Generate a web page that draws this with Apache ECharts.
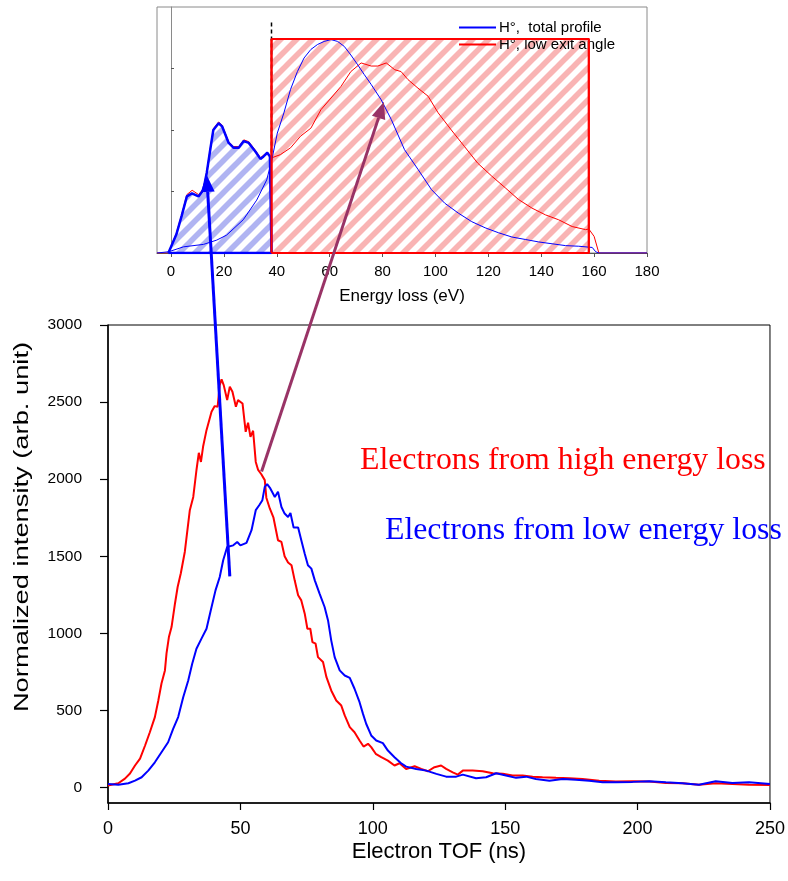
<!DOCTYPE html>
<html><head><meta charset="utf-8">
<script src="https://cdn.jsdelivr.net/npm/echarts@6/dist/echarts.min.js"></script>
<style>html,body{margin:0;padding:0;background:#fff}#c{width:788px;height:881px}</style>
</head><body><div id="c"></div>
<script>
// ---------- main chart data (Electron TOF, ns / normalized intensity) ----------
const redTof = [0,3.9,6.4,8.3,10.2,12.1,14,15.8,17.7,19,20.2,21.5,22.1,23,24,25.3,26.3,27.5,29,30.9,32.2,33.4,34.3,35.1,35.9,37.2,39.1,40.3,41.4,42.2,42.9,43.7,45,46,47,48.3,49.1,50.8,52,52.9,53.8,54.8,55.8,56.7,57.9,59.2,59.8,61.1,62.5,64.2,65.5,66.7,68,69.3,70.5,71.8,73,74.3,75.3,76.4,77.2,78.4,79.3,81.2,82.5,84.3,86.2,88.1,89.4,91.3,93.1,95,96.5,98.2,99.4,101.1,103.2,105.7,108.2,110.1,112.6,115.8,118.3,120.8,123.3,125.8,127.7,130.2,132.1,134,137.7,141.5,145.3,149.1,152.8,156.6,160.4,164.1,169.2,174.2,179.2,185.5,191.8,198.1,204.4,210.7,216.9,223.2,229.5,235.8,242.1,250];
const redIntensity = [13,28,58,91,143,188,273,359,457,565,675,760,870,976,1041,1194,1301,1390,1528,1799,1885,2058,2171,2112,2210,2318,2437,2474,2470,2610,2647,2610,2513,2600,2567,2470,2513,2491,2307,2366,2275,2314,2112,2060,2032,1994,1880,1810,1750,1604,1593,1500,1460,1442,1344,1247,1214,1128,1030,1030,944,933,846,814,716,630,565,532,468,392,359,305,266,284,262,219,197,175,143,158,121,138,121,106,132,143,121,99,84,110,110,106,93,89,78,78,71,67,63,60,56,45,39,41,39,30,28,19,28,24,19,17];
const blueTof = [0,3.9,7.7,10.2,12.7,15.2,17.7,20.2,22.7,24.6,26.5,28.4,30.3,31.8,33.4,35.3,37.2,38.8,40.6,42.2,43.5,45,47.3,48.8,50,52.3,54.2,55.8,57.1,58.3,59.2,60.1,61.3,63,64.2,65.5,66.7,68,68.9,70.1,71.8,73,74.3,75.5,76.8,78.1,79.9,81.8,83.1,84.3,85.6,87.5,89.4,91.3,93.1,95,96.3,97.5,99.4,101.3,103.8,105.7,108.2,110.7,112.6,116.4,120.2,124,127.7,131.5,134,139,142.8,146.6,150.3,154.1,157.9,161.6,166.7,171.7,176.7,181.7,186.8,191.8,198.1,204.4,210.7,216.9,223.2,229.5,235.8,242.1,250];
const blueIntensity = [24,19,28,45,67,110,164,229,294,381,457,586,695,803,900,966,1030,1149,1279,1366,1474,1560,1571,1593,1571,1587,1669,1799,1831,1864,1950,1968,1940,1885,1918,1820,1777,1755,1781,1686,1686,1604,1517,1442,1420,1344,1258,1171,1084,955,846,760,727,712,641,554,478,414,338,305,288,240,197,158,136,121,110,89,71,71,84,60,67,93,78,63,71,56,45,56,50,45,34,34,37,41,34,28,19,41,30,34,24];
const tofTicks = [0,50,100,150,200,250];
const intensityTicks = [0,500,1000,1500,2000,2500,3000];

// ---------- inset data (Energy loss, eV / arbitrary) ----------
const lowPartEnergy = [-1,2,4,6,7.9,10.4,12.2,13.5,14.8,16,18,19.3,21.8,23.7,25.6,27.5,29.4,31.9,33.8,35,36.4,37.4,38];
const lowPartValue  = [0,0.3,0.6,0.92,0.97,0.92,1.02,1.3,1.67,2.0,2.11,2.06,1.79,1.71,1.71,1.82,1.79,1.65,1.53,1.57,1.63,1.57,1.55];
const lowExitEnergy = [-5.3,-1,2,4,6,8,10.4,12.2,13.5,14.8,16,18,19.3,21.8,23.7,25.6,27.5,29.4,31.9,33.8,35,36.4,37.6,41.4,45.2,49,52.9,56.7,60.5,64.3,68,71.9,75.7,78.2,81.4,84.6,87,89.6,93.4,97.2,101,106,111,116,121.3,126.4,131.4,136.5,141.6,146.6,151.7,156.8,158,160,161.8,180];
const lowExitValue  = [0,0,0.32,0.62,0.95,1.02,0.95,1.04,1.32,1.69,2.02,2.13,2.08,1.81,1.73,1.73,1.84,1.81,1.67,1.55,1.59,1.64,1.54,1.6,1.71,1.9,2.03,2.33,2.52,2.71,2.95,3.09,3.04,3.04,3.09,2.98,2.95,2.82,2.68,2.55,2.28,2.0,1.73,1.46,1.25,1.06,0.87,0.73,0.62,0.54,0.43,0.38,0.39,0.27,0,0];
const totalEnergy = [-5.3,-0.9,4.7,12.3,17.3,21,27.3,32.4,36.2,38.1,40.2,42.7,45.2,47.8,50.3,52.9,55.4,57.9,60.5,63,65.5,68,70.6,73.1,75.7,79.5,83.3,88.3,93.4,98.5,103.5,108.6,113.7,118.8,123.8,128.9,134,139,144.1,149.2,154.2,159.3,160.6,161.8,180];
const totalValue  = [0,0.02,0.1,0.14,0.21,0.29,0.54,0.86,1.19,1.51,1.95,2.28,2.66,2.95,3.17,3.31,3.39,3.44,3.47,3.44,3.36,3.22,3.06,2.9,2.74,2.49,2.17,1.68,1.36,1.03,0.81,0.65,0.51,0.41,0.33,0.26,0.22,0.18,0.15,0.12,0.11,0.09,0.02,0,0];
const energyTicks = [0,20,40,60,80,100,120,140,160,180];
const windowStart = 38, windowEnd = 158, windowHeight = 3.48;

function zip(a, b) { return a.map((v, i) => [v, b[i]]); }
function hatch(color) {
  const s = 16, c = document.createElement('canvas');
  c.width = s; c.height = s;
  const g = c.getContext('2d');
  g.fillStyle = '#ffffff'; g.fillRect(0, 0, s, s);
  g.strokeStyle = color; g.lineWidth = 5.6;
  for (const k of [0, s, 2 * s]) { g.beginPath(); g.moveTo(-s, k + s); g.lineTo(2 * s, k - 2 * s); g.stroke(); }
  return { image: c, repeat: 'repeat' };
}

const lowPart = zip(lowPartEnergy, lowPartValue).concat([[windowStart, 0], [-1, 0]]);
const windowRect = [[windowStart, 0], [windowStart, windowHeight], [windowEnd, windowHeight], [windowEnd, 0], [windowStart, 0]];

const chart = echarts.init(document.getElementById('c'), null, { renderer: 'canvas' });
const SANS = 'Liberation Sans, Arial, sans-serif';
const SERIF = 'Liberation Serif, Times New Roman, serif';
chart.setOption({
  animation: false,
  backgroundColor: '#ffffff',
  grid: [
    { left: 108, top: 325, width: 663, height: 478, show: true, borderColor: '#000', borderWidth: 1, containLabel: false },
    { left: 157, top: 7, width: 490, height: 246, show: true, borderColor: '#8a8a8a', borderWidth: 1, containLabel: false }
  ],
  legend: {
    data: ['H°,  total profile', 'H°, low exit angle'],
    orient: 'vertical', left: 453, top: 15, itemWidth: 37, itemHeight: 14, itemGap: 2,
    itemStyle: { opacity: 0 },
    textStyle: { fontSize: 15, fontFamily: SANS, color: '#000', padding: [0, 0, 0, -2] },
    selectedMode: false
  },
  xAxis: [
    { gridIndex: 0, type: 'value', min: 0, max: 250, interval: 50,
      name: 'Electron TOF (ns)', nameLocation: 'middle', nameGap: 38, nameMoveOverlap: false,
      nameTextStyle: { fontSize: 22, fontFamily: SANS, color: '#000' },
      axisLine: { show: true, onZero: false, lineStyle: { color: '#000', width: 1.5 } },
      axisTick: { show: true, length: 7, lineStyle: { color: '#000', width: 1.2 }, customValues: tofTicks },
      axisLabel: { fontSize: 18, fontFamily: SANS, color: '#000', margin: 17, customValues: tofTicks },
      splitLine: { show: false } },
    { gridIndex: 1, type: 'value', min: -5.3, max: 180,
      name: 'Energy loss (eV)', nameLocation: 'middle', nameGap: 35, nameMoveOverlap: false,
      nameTextStyle: { fontSize: 17, fontFamily: SANS, color: '#000' },
      axisLine: { show: true, onZero: false, lineStyle: { color: '#555', width: 1 } },
      axisTick: { show: true, length: 4, lineStyle: { color: '#555' }, customValues: energyTicks },
      axisLabel: { fontSize: 15, fontFamily: SANS, color: '#000', margin: 11, customValues: energyTicks },
      splitLine: { show: false } }
  ],
  yAxis: [
    { gridIndex: 0, type: 'value', min: -100, max: 3000,
      axisLine: { show: true, onZero: false, lineStyle: { color: '#000', width: 1.5 } },
      axisTick: { show: true, length: 8, lineStyle: { color: '#000', width: 1.2 }, customValues: intensityTicks },
      axisLabel: { fontSize: 15.5, fontFamily: SANS, color: '#000', margin: 26, customValues: intensityTicks,
                   formatter: v => String(v) },
      splitLine: { show: false } },
    { gridIndex: 1, type: 'value', min: 0, max: 4,
      axisLine: { show: true, lineStyle: { color: '#8a8a8a' } },
      axisTick: { show: true, inside: true, length: 3, lineStyle: { color: '#555' }, customValues: [1, 2, 3] },
      axisLabel: { show: false },
      splitLine: { show: false } }
  ],
  series: [
    { name: 'window', type: 'line', xAxisIndex: 1, yAxisIndex: 1, data: windowRect,
      showSymbol: false, symbol: 'none', silent: true, z: 1,
      lineStyle: { color: '#ff0000', width: 2 },
      areaStyle: { color: hatch('#f9b4b4'), opacity: 1 } },
    { name: 'lowpart', type: 'line', xAxisIndex: 1, yAxisIndex: 1, data: lowPart,
      showSymbol: false, symbol: 'none', silent: true, z: 1,
      lineStyle: { color: 'rgba(0,0,0,0)', width: 0 },
      areaStyle: { color: hatch('#b0b4f2'), opacity: 1 } },
    { name: 'cut', type: 'line', xAxisIndex: 1, yAxisIndex: 1, data: [[windowStart, 3.75], [windowStart, 1.55]],
      showSymbol: false, symbol: 'none', silent: true, z: 2,
      lineStyle: { color: '#000', width: 1.5, type: [4, 3] } },
    { name: 'H°, low exit angle', type: 'line', xAxisIndex: 1, yAxisIndex: 1, data: zip(lowExitEnergy, lowExitValue),
      showSymbol: false, symbol: 'none', z: 3, color: '#ff0000',
      lineStyle: { color: '#ff0000', width: 1 } },
    { name: 'H°,  total profile', type: 'line', xAxisIndex: 1, yAxisIndex: 1, data: zip(totalEnergy, totalValue),
      showSymbol: false, symbol: 'none', z: 3, color: '#0000ff',
      lineStyle: { color: '#0000ff', width: 1 } },
    { name: 'lowpartline', type: 'line', xAxisIndex: 1, yAxisIndex: 1, data: lowPart,
      showSymbol: false, symbol: 'none', z: 4,
      lineStyle: { color: '#0000ff', width: 2.5 } },
    { name: 'window border', type: 'line', xAxisIndex: 1, yAxisIndex: 1, data: windowRect,
      showSymbol: false, symbol: 'none', silent: true, z: 4,
      lineStyle: { color: '#ff0000', width: 2 } },
    { name: 'high', type: 'line', xAxisIndex: 0, yAxisIndex: 0, data: zip(redTof, redIntensity),
      showSymbol: false, symbol: 'none', z: 3, lineStyle: { color: '#ff0000', width: 2 } },
    { name: 'low', type: 'line', xAxisIndex: 0, yAxisIndex: 0, data: zip(blueTof, blueIntensity),
      showSymbol: false, symbol: 'none', z: 3, lineStyle: { color: '#0000ff', width: 2 } }
  ]
});

// ---------- arrows linking main chart to inset ----------
function arrow(p0, p1, color) {
  const dx = p1[0] - p0[0], dy = p1[1] - p0[1], len = Math.hypot(dx, dy);
  const ux = dx / len, uy = dy / len, L = 17, W = 7;
  const bx = p1[0] - ux * L, by = p1[1] - uy * L;
  return [
    { type: 'line', z: 100, shape: { x1: p0[0], y1: p0[1], x2: bx, y2: by }, style: { stroke: color, lineWidth: 3 } },
    { type: 'polygon', z: 100, shape: { points: [p1, [bx - uy * W, by + ux * W], [bx + uy * W, by - ux * W]] }, style: { fill: color } }
  ];
}
const blueTail = chart.convertToPixel({ xAxisIndex: 0, yAxisIndex: 0 }, [46, 1370]);
const blueTip  = chart.convertToPixel({ xAxisIndex: 1, yAxisIndex: 1 }, [13.5, 1.27]);
const purpTail = chart.convertToPixel({ xAxisIndex: 0, yAxisIndex: 0 }, [58, 2050]);
const purpTip  = chart.convertToPixel({ xAxisIndex: 1, yAxisIndex: 1 }, [80.5, 2.46]);
chart.setOption({
  graphic: [].concat(
    arrow(blueTail, blueTip, '#0000ff'),
    arrow(purpTail, purpTip, '#993366'),
    [
      { type: 'text', x: 23, y: 527, rotation: Math.PI / 2, scaleX: 1.4, scaleY: 1, z: 100,
        style: { text: 'Normalized intensity (arb. unit)', fill: '#000', fontSize: 19.5, fontFamily: SANS, align: 'center', verticalAlign: 'middle' } },
      { type: 'text', left: 360, top: 445, z: 100, style: { text: 'Electrons from high energy loss', fill: '#ff0000', fontSize: 31.8, fontFamily: SERIF } },
      { type: 'text', left: 385, top: 515, z: 100, style: { text: 'Electrons from low energy loss', fill: '#0000ff', fontSize: 31.8, fontFamily: SERIF } }
    ]
  )
});
</script></body></html>
